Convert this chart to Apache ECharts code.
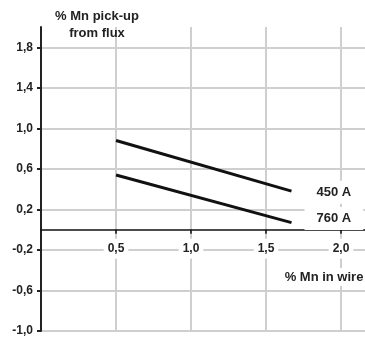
<!DOCTYPE html>
<html>
<head>
<meta charset="utf-8">
<script src="https://cdn.jsdelivr.net/npm/echarts@6/dist/echarts.min.js"></script>
<style>html,body{margin:0;padding:0;background:#fff}#c{width:365px;height:338px}</style>
</head>
<body>
<div id="c"></div>
<script>
const xValues = [0.5, 1.67];
const pickup450 = [0.88, 0.38];
const pickup760 = [0.54, 0.07];
const seriesNames = ['450 A', '760 A'];
const yTitle = '% Mn pick-up\nfrom flux';
const xTitle = '% Mn in wire';

const FONT = '"Liberation Sans", Arial, sans-serif';
const fmt = v => v.toFixed(1).replace('.', ',');
const pairs = arr => xValues.map((x, i) => [x, arr[i]]);

const chart = echarts.init(document.getElementById('c'), null, {renderer: 'canvas'});
chart.setOption({
  animation: false,
  backgroundColor: '#fff',
  grid: {left: 41, right: 0, top: 27, bottom: 7, containLabel: false, outerBoundsMode: 'none'},
  title: [
    {text: yTitle, left: 97, top: 8, textAlign: 'center', padding: 0,
     textStyle: {fontFamily: FONT, fontSize: 13, fontWeight: 'bold', color: '#222', lineHeight: 17}},
    {text: xTitle, left: 321, top: 268, textAlign: 'center', padding: [2, 3], backgroundColor: '#fff',
     textStyle: {fontFamily: FONT, fontSize: 13, fontWeight: 'bold', color: '#222', lineHeight: 14}}
  ],
  xAxis: {
    type: 'value', min: 0, max: 2.16, interval: 0.5, position: 'bottom', offset: 0,
    axisLine: {onZero: false, lineStyle: {color: '#111', width: 1.5}},
    axisTick: {show: true, length: 4, lineStyle: {color: '#111', width: 1.5}},
    axisLabel: {showMinLabel: false, showMaxLabel: false, formatter: fmt, margin: 9,
      fontFamily: FONT, fontSize: 12, fontWeight: 'bold', color: '#222',
      backgroundColor: '#fff', padding: [4, 4]},
    splitLine: {show: true, showMinLine: false, showMaxLine: false, lineStyle: {color: '#cfcfcf', width: 2}}
  },
  yAxis: {
    type: 'value', min: -1, max: 2, interval: 0.4,
    axisLine: {show: true, onZero: false, lineStyle: {color: '#222', width: 2}},
    axisTick: {show: true, length: 4, lineStyle: {color: '#222', width: 2}},
    axisLabel: {showMaxLabel: false, formatter: fmt, margin: 8,
      fontFamily: FONT, fontSize: 12, fontWeight: 'bold', color: '#222'},
    splitLine: {show: true, showMaxLine: false, lineStyle: {color: '#cfcfcf', width: 2}}
  },
  series: [
    {name: seriesNames[0], type: 'line', data: pairs(pickup450), symbol: 'none', z: 3,
     lineStyle: {color: '#111', width: 3},
     endLabel: {show: true, formatter: '{a}', distance: 13, offset: [0, 1],
       backgroundColor: '#fff', padding: [5, 12],
       fontFamily: FONT, fontSize: 13, fontWeight: 'bold', color: '#222'}},
    {name: seriesNames[1], type: 'line', data: pairs(pickup760), symbol: 'none', z: 3,
     lineStyle: {color: '#111', width: 3},
     endLabel: {show: true, formatter: '{a}', distance: 13, offset: [0, -4],
       backgroundColor: '#fff', padding: [5, 12],
       fontFamily: FONT, fontSize: 13, fontWeight: 'bold', color: '#222'}}
  ]
});
// move the x axis (line, ticks, labels) up to y = 0
const yZero = chart.convertToPixel({yAxisIndex: 0}, 0);
const yBottom = chart.convertToPixel({yAxisIndex: 0}, -1);
chart.setOption({xAxis: {offset: -(yBottom - yZero)}});
</script>
</body>
</html>
